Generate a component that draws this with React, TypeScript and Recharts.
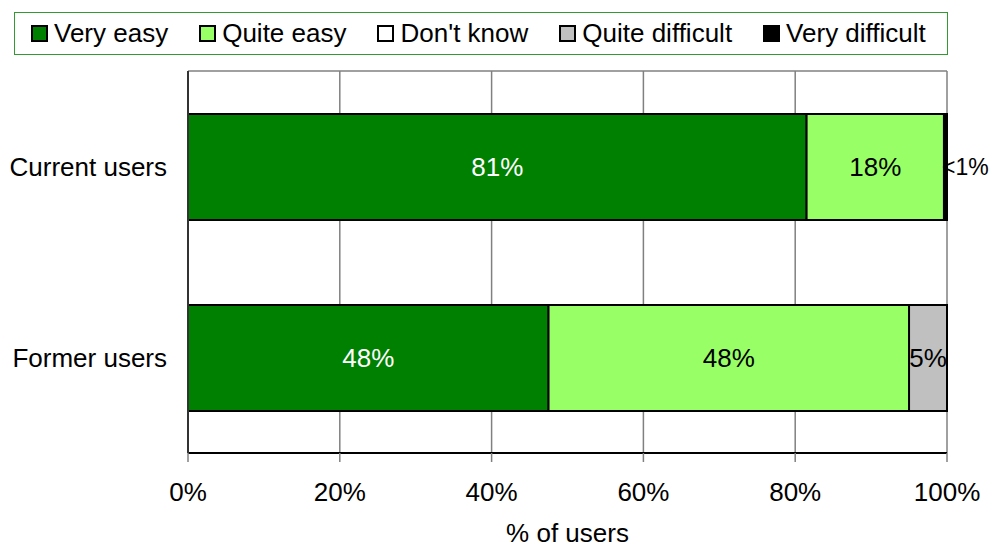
import {
  BarChart,
  Bar,
  XAxis,
  YAxis,
  CartesianGrid,
  Legend,
  LabelList,
} from 'recharts'

const groups = ['Current users', 'Former users']
const veryEasy = [81.5, 47.5]
const quiteEasy = [18.1, 47.5]
const dontKnow = [0, 0]
const quiteDifficult = [0, 5]
const veryDifficult = [0.4, 0]

const veryEasyLabels = ['81%', '48%']
const quiteEasyLabels = ['18%', '48%']
const quiteDifficultLabels = ['', '5%']
const veryDifficultLabels = ['<1%', '']

const xTicks = [0, 20, 40, 60, 80, 100]

const FONT = '"Liberation Sans", Arial, sans-serif'
const FS = 26

const series = [
  { key: 'veryEasy', name: 'Very easy', color: '#008000' },
  { key: 'quiteEasy', name: 'Quite easy', color: '#99ff66' },
  { key: 'dontKnow', name: "Don't know", color: '#ffffff' },
  { key: 'quiteDifficult', name: 'Quite difficult', color: '#c0c0c0' },
  { key: 'veryDifficult', name: 'Very difficult', color: '#000000' },
]

const data = groups.map((name, i) => ({
  name,
  veryEasy: veryEasy[i],
  quiteEasy: quiteEasy[i],
  dontKnow: dontKnow[i],
  quiteDifficult: quiteDifficult[i],
  veryDifficult: veryDifficult[i],
  veryEasyLabel: veryEasyLabels[i],
  quiteEasyLabel: quiteEasyLabels[i],
  quiteDifficultLabel: quiteDifficultLabels[i],
  veryDifficultLabel: veryDifficultLabels[i],
}))

function LegendBox() {
  return (
    <div
      style={{
        boxSizing: 'border-box',
        height: 43,
        width: 934,
        border: '1px solid #339933',
        display: 'flex',
        alignItems: 'center',
        gap: 31,
        paddingLeft: 16,
        fontFamily: FONT,
        fontSize: FS,
        color: '#000',
        background: '#fff',
        whiteSpace: 'nowrap',
      }}
    >
      {series.map((s) => (
        <div key={s.key} style={{ display: 'flex', alignItems: 'center' }}>
          <span
            style={{
              display: 'inline-block',
              boxSizing: 'border-box',
              width: 17,
              height: 17,
              background: s.color,
              border: '2px solid #000',
              marginRight: 6,
            }}
          />
          <span>{s.name}</span>
        </div>
      ))}
    </div>
  )
}

export default function App() {
  return (
    <div style={{ width: 993, height: 547, background: '#fff', position: 'relative' }}>
      <style>{'body{margin:0}'}</style>
      <BarChart
        width={993}
        height={547}
        data={data}
        layout="vertical"
        margin={{ top: 28, right: 46, bottom: 34, left: 0 }}
        barSize={106}
      >
        <CartesianGrid
          stroke="#808080"
          strokeWidth={1.5}
          horizontal={true}
          horizontalPoints={[71]}
        />
        <XAxis
          type="number"
          domain={[0, 100]}
          ticks={xTicks}
          tickFormatter={(v) => `${v}%`}
          interval={0}
          height={60}
          tickSize={9}
          tickMargin={21}
          tickLine={{ stroke: '#808080', strokeWidth: 1.5 }}
          axisLine={{ stroke: '#000', strokeWidth: 2 }}
          tick={{ fill: '#000', fontSize: FS, fontFamily: FONT }}
          label={{
            value: '% of users',
            position: 'bottom',
            offset: 11,
            fill: '#000',
            fontSize: FS,
            fontFamily: FONT,
          }}
        />
        <YAxis
          type="category"
          dataKey="name"
          width={188}
          tickLine={false}
          tickMargin={15}
          axisLine={{ stroke: '#333', strokeWidth: 2 }}
          tick={{ fill: '#000', fontSize: FS, fontFamily: FONT }}
        />
        <Legend
          verticalAlign="top"
          wrapperStyle={{ top: 12, left: 14, width: 934 }}
          content={() => <LegendBox />}
        />
        {series.map((s) => (
          <Bar
            key={s.key}
            dataKey={s.key}
            name={s.name}
            stackId="a"
            fill={s.color}
            stroke="#000"
            strokeWidth={2}
            isAnimationActive={false}
          >
            {s.key === 'veryEasy' && (
              <LabelList
                dataKey="veryEasyLabel"
                position="center"
                fill="#fff"
                fontSize={FS}
                fontFamily={FONT}
              />
            )}
            {s.key === 'quiteEasy' && (
              <LabelList
                dataKey="quiteEasyLabel"
                position="center"
                fill="#000"
                fontSize={FS}
                fontFamily={FONT}
              />
            )}
            {s.key === 'quiteDifficult' && (
              <LabelList
                dataKey="quiteDifficultLabel"
                position="center"
                fill="#000"
                fontSize={FS}
                fontFamily={FONT}
              />
            )}
            {s.key === 'veryDifficult' && (
              <LabelList
                dataKey="veryDifficultLabel"
                position="right"
                offset={-5}
                fill="#000"
                fontSize={23}
                fontFamily={FONT}
              />
            )}
          </Bar>
        ))}
      </BarChart>
    </div>
  )
}
